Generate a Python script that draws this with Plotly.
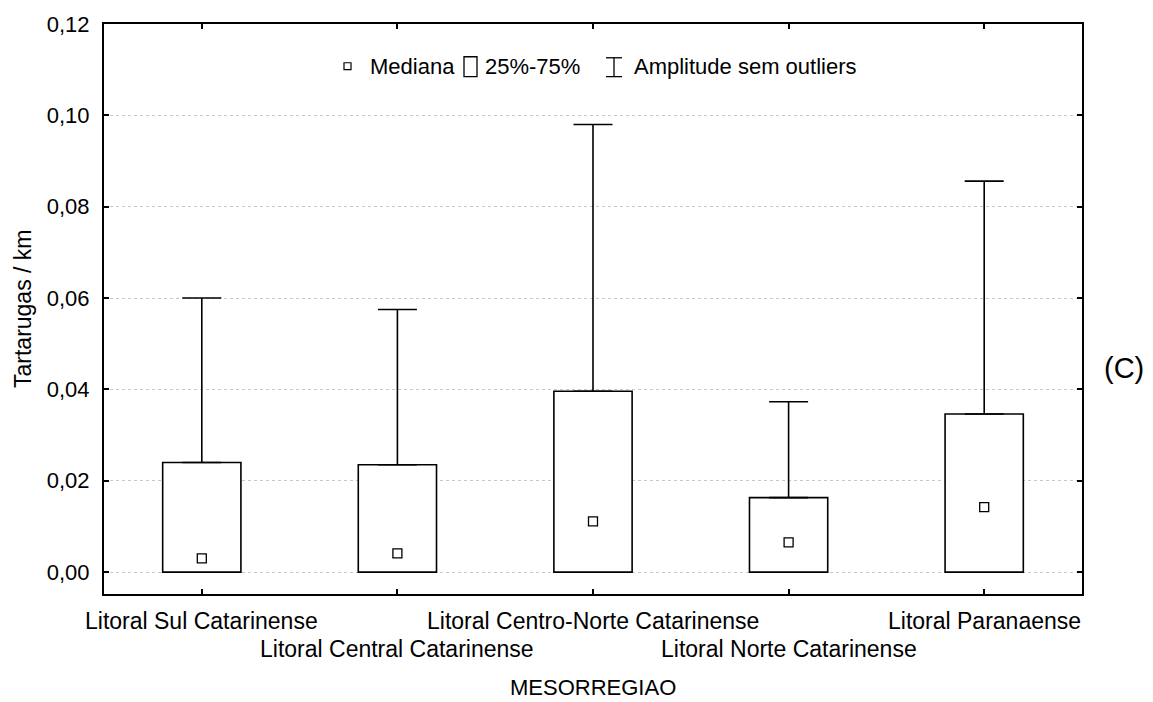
import plotly.graph_objects as go

# Tartarugas por km em cada mesorregião
categories = [
    "Litoral Sul Catarinense",
    "Litoral Central Catarinense",
    "Litoral Centro-Norte Catarinense",
    "Litoral Norte Catarinense",
    "Litoral Paranaense",
]
medians = [0.0030, 0.0041, 0.0111, 0.0065, 0.0142]
q1 = [0.0, 0.0, 0.0, 0.0, 0.0]
q3 = [0.0240, 0.0235, 0.0396, 0.0163, 0.0346]
whisker_max = [0.0600, 0.0575, 0.0980, 0.0373, 0.0856]

y_ticks = [0.00, 0.02, 0.04, 0.06, 0.08, 0.10, 0.12]

FONT = "Liberation Sans, Arial, sans-serif"
W, H = 1153, 702
L, R, T, B = 104, 71, 20, 108
PW, PH = W - L - R, H - T - B


def px_x(px):
    return (px - L) / PW


def px_y(py):
    return (H - B - py) / PH


fig = go.Figure()

# 25%-75% boxes
fig.add_trace(go.Bar(
    x=categories,
    y=[b - a for a, b in zip(q1, q3)],
    base=q1,
    width=0.4,
    marker=dict(color="white", line=dict(color="black", width=1.6)),
    showlegend=False,
    hoverinfo="skip",
))

# whiskers from the upper quartile to the maximum (no outliers)
fig.add_trace(go.Scatter(
    x=categories,
    y=q3,
    mode="markers",
    marker=dict(size=1, color="rgba(0,0,0,0)"),
    error_y=dict(
        type="data",
        symmetric=False,
        array=[m - b for b, m in zip(q3, whisker_max)],
        arrayminus=[0] * len(q3),
        color="black",
        thickness=1.6,
        width=19.5,
    ),
    showlegend=False,
    hoverinfo="skip",
))

# medians
fig.add_trace(go.Scatter(
    x=categories,
    y=medians,
    mode="markers",
    marker=dict(symbol="square-open", size=9, color="black", line=dict(width=1.3)),
    showlegend=False,
    hoverinfo="skip",
))

annotations = []
# staggered category labels
for i, c in enumerate(categories):
    annotations.append(dict(
        x=c, xref="x", y=0, yref="paper",
        text=c, showarrow=False, xanchor="center", yanchor="middle",
        yshift=-27 if i % 2 == 0 else -55,
        font=dict(family=FONT, size=23, color="black"),
    ))

annotations += [
    dict(x=0.5, xref="paper", y=0, yref="paper", text="MESORREGIAO",
         showarrow=False, xanchor="center", yanchor="middle", yshift=-93,
         font=dict(family=FONT, size=22, color="black")),
    dict(x=0, xref="paper", y=0.5, yref="paper", text="Tartarugas / km",
         showarrow=False, textangle=-90, xanchor="center", yanchor="middle",
         xshift=-81, font=dict(family=FONT, size=23, color="black")),
    dict(x=px_x(1124), xref="paper", y=px_y(366), yref="paper", text="(C)",
         showarrow=False, xanchor="center", yanchor="middle",
         font=dict(family=FONT, size=29, color="black")),
]

# legend row
legend_y = px_y(63)
for txt, x0 in [("Mediana", 368), ("25%-75%", 483), ("Amplitude sem outliers", 632)]:
    annotations.append(dict(
        x=px_x(x0), xref="paper", y=legend_y, yref="paper", text=txt,
        showarrow=False, xanchor="left", yanchor="middle",
        font=dict(family=FONT, size=22, color="black"),
    ))

shapes = [
    # median symbol
    dict(type="rect", xref="paper", yref="paper",
         x0=px_x(344), x1=px_x(351), y0=px_y(66), y1=px_y(59),
         line=dict(color="black", width=1.2), fillcolor="white"),
    # box symbol
    dict(type="rect", xref="paper", yref="paper",
         x0=px_x(464), x1=px_x(477), y0=px_y(73), y1=px_y(53),
         line=dict(color="black", width=1.3), fillcolor="white"),
    # whisker symbol
    dict(type="line", xref="paper", yref="paper",
         x0=px_x(614), x1=px_x(614), y0=px_y(73), y1=px_y(54),
         line=dict(color="black", width=1.3)),
    dict(type="line", xref="paper", yref="paper",
         x0=px_x(606), x1=px_x(622), y0=px_y(54), y1=px_y(54),
         line=dict(color="black", width=1.3)),
    dict(type="line", xref="paper", yref="paper",
         x0=px_x(606), x1=px_x(622), y0=px_y(73), y1=px_y(73),
         line=dict(color="black", width=1.3)),
]

fig.update_layout(
    width=W, height=H,
    margin=dict(l=L, r=R, t=T, b=B, pad=0),
    paper_bgcolor="white", plot_bgcolor="white",
    separators=",.",
    font=dict(family=FONT, size=22, color="black"),
    annotations=annotations,
    shapes=shapes,
    bargap=0.6,
)

fig.update_xaxes(
    type="category",
    range=[-0.5, len(categories) - 0.5],
    showticklabels=False,
    ticks="inside", ticklen=5, tickwidth=1.5, tickcolor="black",
    showline=True, linecolor="black", linewidth=2, mirror="ticks",
    showgrid=False, zeroline=False,
)

fig.update_yaxes(
    range=[-0.0048, 0.12],
    tickvals=y_ticks, tickformat=".2f",
    ticks="inside", ticklen=5, tickwidth=1.5, tickcolor="black",
    ticklabelstandoff=8,
    tickfont=dict(family=FONT, size=22, color="black"),
    showline=True, linecolor="black", linewidth=2, mirror="ticks",
    showgrid=True, gridcolor="#c8c8c8", gridwidth=1, griddash="dot",
    zeroline=False,
)

fig.write_html("out.html")
